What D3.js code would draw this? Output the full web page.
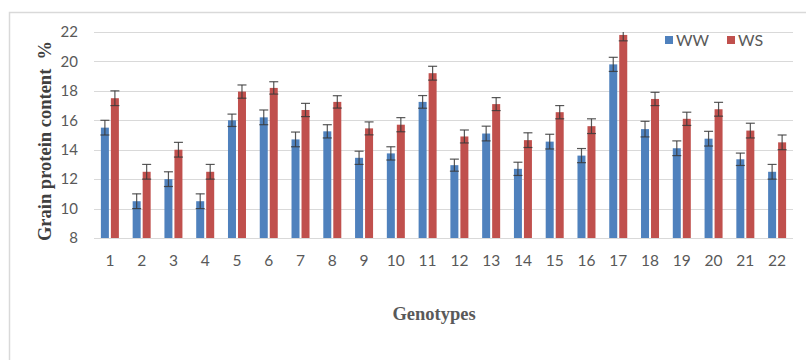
<!DOCTYPE html>
<html lang="en">
<head>
<meta charset="UTF-8">
<title>Grain protein content</title>
<style>
body {
	margin: 0;
	background: #fff;
}
svg {
	display: block;
}
</style>
</head>
<body>
<svg id="chart" width="806" height="360"></svg>
<script src="https://cdn.jsdelivr.net/npm/d3@7/dist/d3.min.js"></script>
<script>

const genotypes = ["1","2","3","4","5","6","7","8","9","10","11","12","13","14","15","16","17","18","19","20","21","22"];
const seriesNames = ["WW", "WS"];
const wwValues = [15.5, 10.5, 12.0, 10.5, 16.0, 16.2, 14.7, 15.25, 13.45, 13.75, 17.25, 12.95, 15.1, 12.7, 14.55, 13.6, 19.8, 15.4, 14.1, 14.75, 13.35, 12.5];
const wsValues = [17.5, 12.5, 14.0, 12.5, 17.95, 18.2, 16.7, 17.25, 15.45, 15.7, 19.2, 14.9, 17.1, 14.65, 16.55, 15.6, 21.8, 17.45, 16.1, 16.75, 15.3, 14.5];
const wwErrors = [0.5, 0.5, 0.5, 0.5, 0.42, 0.5, 0.5, 0.45, 0.45, 0.45, 0.43, 0.41, 0.5, 0.45, 0.5, 0.48, 0.48, 0.53, 0.5, 0.5, 0.42, 0.5];
const wsErrors = [0.5, 0.5, 0.5, 0.5, 0.45, 0.42, 0.45, 0.42, 0.44, 0.48, 0.47, 0.44, 0.44, 0.5, 0.45, 0.5, 0.4, 0.45, 0.45, 0.47, 0.5, 0.5];
const yTicks = [8, 10, 12, 14, 16, 18, 20, 22];

const colors = {WW: "#4f81bd", WS: "#c0504d"};
const svg = d3.select("#chart");

// chart frame (top and left edges only)
svg.append("path")
	.attr("d", "M9.5,360 V12.5 H806")
	.attr("fill", "none")
	.attr("stroke", "#d9d9d9")
	.attr("stroke-width", 1.5);

const plot = {left: 94, right: 793, top: 32, bottom: 238};

const x = d3.scaleBand().domain(genotypes).range([plot.left, plot.right]).padding(0);
const xInner = d3.scaleBand().domain(seriesNames).range([-9, 9]).paddingInner(0.2);
const y = d3.scaleLinear().domain([8, 22]).range([plot.bottom, plot.top]);

// gridlines
svg.append("g")
	.selectAll("line")
	.data(yTicks)
	.join("line")
	.attr("x1", plot.left)
	.attr("x2", plot.right)
	.attr("y1", d => Math.round(y(d)) + 0.5)
	.attr("y2", d => Math.round(y(d)) + 0.5)
	.attr("stroke", "#d9d9d9")
	.attr("stroke-width", 1);

// y tick labels
svg.append("g")
	.selectAll("text")
	.data(yTicks)
	.join("text")
	.attr("x", 78)
	.attr("y", d => y(d))
	.attr("dy", "0.35em")
	.attr("text-anchor", "end")
	.attr("font-family", "Lato, 'Open Sans', sans-serif")
	.attr("font-size", 15)
	.attr("fill", "#595959")
	.text(d => d);

// x tick labels
svg.append("g")
	.selectAll("text")
	.data(genotypes)
	.join("text")
	.attr("x", d => x(d) + x.bandwidth() / 2)
	.attr("y", 266)
	.attr("text-anchor", "middle")
	.attr("font-family", "Lato, 'Open Sans', sans-serif")
	.attr("font-size", 15.5)
	.attr("fill", "#595959")
	.text(d => d);

const rows = genotypes.map((g, i) => ({
	g: g,
	series: [
		{name: "WW", value: wwValues[i], err: wwErrors[i]},
		{name: "WS", value: wsValues[i], err: wsErrors[i]}
	]
}));

svg.append("defs").append("clipPath")
	.attr("id", "plotclip")
	.append("rect")
	.attr("x", plot.left)
	.attr("y", plot.top)
	.attr("width", plot.right - plot.left)
	.attr("height", plot.bottom - plot.top);

const groups = svg.append("g")
	.attr("clip-path", "url(#plotclip)")
	.selectAll("g")
	.data(rows)
	.join("g")
	.attr("transform", d => `translate(${x(d.g) + x.bandwidth() / 2},0)`);

groups.selectAll("rect")
	.data(d => d.series)
	.join("rect")
	.attr("x", d => xInner(d.name))
	.attr("width", xInner.bandwidth())
	.attr("y", d => y(d.value))
	.attr("height", d => y(8) - y(d.value))
	.attr("fill", d => colors[d.name]);

// error bars
const capW = 4.5;
const eb = groups.selectAll("g.err")
	.data(d => d.series)
	.join("g")
	.attr("class", "err")
	.attr("stroke", "#3a3a3a")
	.attr("stroke-opacity", 0.85)
	.attr("stroke-width", 1.2);

eb.append("line")
	.attr("x1", d => xInner(d.name) + xInner.bandwidth() / 2)
	.attr("x2", d => xInner(d.name) + xInner.bandwidth() / 2)
	.attr("y1", d => y(d.value - d.err))
	.attr("y2", d => y(d.value + d.err));

eb.selectAll("line.cap")
	.data(d => [d.value - d.err, d.value + d.err].map(v => ({c: xInner(d.name) + xInner.bandwidth() / 2, v: v})))
	.join("line")
	.attr("class", "cap")
	.attr("x1", d => d.c - capW)
	.attr("x2", d => d.c + capW)
	.attr("y1", d => y(d.v))
	.attr("y2", d => y(d.v));

// legend
const legendX = [665, 727];
const legend = svg.append("g")
	.selectAll("g")
	.data(seriesNames)
	.join("g")
	.attr("transform", (d, i) => `translate(${legendX[i]},36)`);

legend.append("rect")
	.attr("width", 8)
	.attr("height", 8)
	.attr("fill", d => colors[d]);

legend.append("text")
	.attr("x", 11)
	.attr("y", 4)
	.attr("dy", "0.36em")
	.attr("font-family", "Lato, 'Open Sans', sans-serif")
	.attr("font-size", 16)
	.attr("fill", "#595959")
	.text(d => d);

// axis titles
svg.append("text")
	.attr("transform", "translate(51,141) rotate(-90)")
	.attr("text-anchor", "middle")
	.attr("font-family", "'Liberation Serif', 'Times New Roman', serif")
	.attr("font-weight", "bold")
	.attr("font-size", 18.5)
	.attr("fill", "#404040")
	.attr("xml:space", "preserve")
	.text("Grain protein content  %");

svg.append("text")
	.attr("x", 434)
	.attr("y", 320)
	.attr("text-anchor", "middle")
	.attr("font-family", "'Liberation Serif', 'Times New Roman', serif")
	.attr("font-weight", "bold")
	.attr("font-size", 18.5)
	.attr("fill", "#595959")
	.text("Genotypes");

</script>
</body>
</html>
